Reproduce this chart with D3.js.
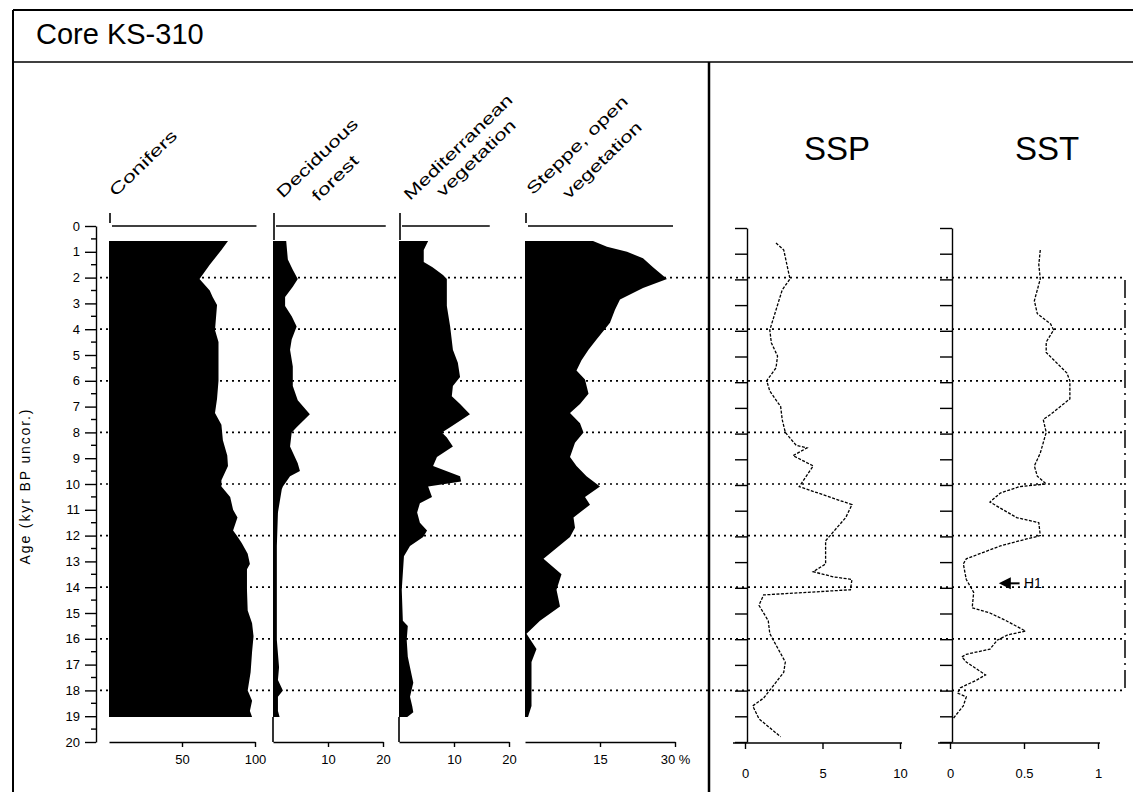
<!DOCTYPE html>
<html>
<head>
<meta charset="utf-8">
<script src="https://cdn.jsdelivr.net/npm/d3@7"></script>
<style>
  body { margin: 0; background: #fff; }
  svg { display: block; font-family: "Liberation Sans", Arial, sans-serif; }
  .axis path, .axis line { stroke: #000; stroke-width: 1.4; }
  .axis text { font-size: 13px; fill: #000; }
</style>
</head>
<body>
<svg id="chart" width="1133" height="792"></svg>
<script>
// pollen percentages, [age kyr BP, %]
var conifers = [[0.58,81.5],[0.93,77],[1.5,69],[2.05,62],[2.5,69],[2.75,71],[3.06,74],[4.03,72.6],[4.5,75],[6.0,75],[6.7,74],[7.25,72.6],[7.7,77],[8.3,78],[8.9,81],[9.3,81.5],[9.85,77],[10.1,77],[10.5,83],[11.0,85],[11.3,88],[11.8,85],[12.0,87.5],[12.3,91],[12.7,95],[13.1,96.5],[13.3,94.5],[14.1,94.5],[14.9,95],[15.4,98],[15.9,99],[16.5,98],[17.3,97],[18.0,95],[18.4,98],[18.8,96.5],[19.03,98]];
var deciduous = [[0.58,2.4],[1.3,2.7],[1.7,3.6],[2.05,4.5],[2.35,3.6],[2.75,2.2],[3.1,2.2],[3.5,3.4],[3.9,4.3],[4.4,3.4],[4.8,3.1],[5.45,3.6],[6.2,3.6],[6.75,4.5],[7.3,6.7],[7.8,4.3],[8.0,3.4],[8.55,3.1],[9.2,4.5],[9.5,4.9],[9.7,3.1],[10.1,1.8],[10.2,1.6],[11.1,0.9],[12.4,0.7],[15.0,0.7],[16.05,0.7],[17.1,1.1],[17.6,0.9],[18.0,1.8],[18.25,0.9],[18.8,0.9],[19.03,1.2]];
var mediterranean = [[0.58,5.3],[0.93,4.5],[1.4,4.5],[1.6,6.1],[1.9,8.0],[2.05,8.7],[3.1,8.7],[3.9,9.3],[4.8,9.8],[5.3,10.7],[5.85,11.1],[6.2,9.8],[6.6,9.6],[6.9,11.1],[7.3,12.9],[7.8,9.3],[8.0,7.8],[8.2,8.7],[8.55,9.8],[8.95,6.9],[9.3,6.2],[9.7,11.1],[9.9,11.3],[10.1,5.3],[10.5,6.0],[10.75,3.8],[11.1,3.3],[11.5,3.8],[11.8,5.1],[12.05,4.4],[12.4,2.0],[12.8,0.9],[14.1,0.5],[15.3,0.7],[15.5,1.6],[16.05,1.4],[16.7,1.6],[17.1,2.0],[17.7,2.6],[18.25,2.0],[18.6,2.4],[18.85,2.6],[19.03,1.5]];
var steppe = [[0.58,13.6],[0.8,16.4],[1.0,20.4],[1.25,23.6],[1.6,25.6],[2.05,28.4],[2.4,23.6],[2.85,19],[3.25,18],[3.75,17],[4.4,14.3],[4.8,12.7],[5.2,11.3],[5.6,10.3],[5.95,12],[6.5,12.7],[6.9,11],[7.25,9],[7.65,11],[8.0,11.7],[8.4,10],[8.95,9],[9.3,10.3],[9.7,12.3],[10.1,15],[10.5,12],[10.8,13],[11.3,9.7],[11.7,10],[12.05,9],[12.9,3.7],[13.5,7.3],[14.1,6.3],[14.75,7],[15.3,3],[15.8,0.3],[16.4,2.3],[16.9,1.3],[17.9,1.3],[18.6,1.3],[19.03,0.6]];

// sea surface proxies, [age kyr BP, value]
var ssp = [[0.66,2.0],[0.93,2.5],[2.05,2.9],[2.48,2.4],[3.06,2.1],[4.03,1.6],[4.53,1.7],[5.04,2.1],[5.5,2.0],[6.0,1.4],[6.4,1.6],[7.0,2.3],[7.5,2.4],[8.0,2.6],[8.5,3.3],[8.6,4.0],[8.9,3.1],[9.3,4.4],[10.1,3.5],[10.8,6.9],[11.3,6.5],[12.2,5.2],[13.1,5.2],[13.4,4.4],[13.6,5.7],[13.7,6.9],[14.1,6.8],[14.3,1.2],[14.7,0.9],[15.3,1.5],[15.8,1.6],[16.9,2.6],[17.3,2.5],[18.3,1.2],[18.6,0.5],[19.1,0.9],[19.8,2.3]];
var sst = [[0.93,0.61],[1.5,0.6],[2.05,0.61],[2.9,0.57],[3.4,0.59],[3.8,0.68],[4.03,0.7],[4.5,0.65],[4.9,0.65],[5.7,0.79],[6.0,0.81],[6.7,0.81],[7.3,0.68],[7.5,0.63],[8.0,0.65],[8.8,0.61],[9.3,0.57],[9.7,0.59],[10.0,0.65],[10.1,0.47],[10.35,0.34],[10.7,0.27],[11.3,0.45],[11.5,0.6],[12.0,0.61],[12.2,0.47],[12.4,0.34],[12.9,0.11],[13.1,0.09],[13.7,0.11],[14.2,0.16],[14.8,0.15],[15.0,0.27],[15.3,0.38],[15.7,0.51],[15.85,0.39],[16.05,0.32],[16.4,0.27],[16.6,0.11],[16.7,0.08],[16.9,0.11],[17.4,0.24],[17.6,0.18],[17.9,0.07],[18.1,0.05],[18.25,0.11],[18.6,0.09],[19.1,0.02]];

var ageTicks = d3.range(0, 21);
var guideAges = [2, 4, 6, 8, 10, 12, 14, 16, 18];
var sspTicks = [0, 5, 10];
var sstTicks = [0, 0.5, 1];

var svg = d3.select("#chart");
var y = d3.scaleLinear().domain([0, 20]).range([226, 742]);

// frame
svg.append("line").attr("x1", 13).attr("x2", 1133).attr("y1", 10).attr("y2", 10).attr("stroke", "#000").attr("stroke-width", 2);
svg.append("line").attr("x1", 13).attr("x2", 1133).attr("y1", 62).attr("y2", 62).attr("stroke", "#000").attr("stroke-width", 1.6);
svg.append("line").attr("x1", 13).attr("x2", 13).attr("y1", 10).attr("y2", 792).attr("stroke", "#000").attr("stroke-width", 2);
svg.append("line").attr("x1", 709).attr("x2", 709).attr("y1", 62).attr("y2", 792).attr("stroke", "#000").attr("stroke-width", 2.5);
svg.append("line").attr("x1", 1125).attr("x2", 1125).attr("y1", 280).attr("y2", 690)
  .attr("stroke", "#000").attr("stroke-width", 1.5).attr("stroke-dasharray", "18,5,2,5");

svg.append("text").attr("x", 36).attr("y", 44).style("font-size", "29px").text("Core KS-310");

// dotted guide lines
svg.append("g").selectAll("line").data(guideAges).join("line")
  .attr("x1", 100).attr("x2", 1125)
  .attr("y1", d => y(d)).attr("y2", d => y(d))
  .attr("stroke", "#000").attr("stroke-width", 1.7).attr("stroke-dasharray", "2,4");

// age axis
var ageAxis = svg.append("g").attr("class", "axis").attr("transform", "translate(96,0)")
  .call(d3.axisLeft(y).tickValues(ageTicks).tickSize(11).tickPadding(5).tickSizeOuter(0));
ageAxis.selectAll(".minor").data(d3.range(0.5, 20, 1)).join("line").attr("class", "minor")
  .attr("x1", 0).attr("x2", -5).attr("y1", d => y(d)).attr("y2", d => y(d));

svg.append("text")
  .attr("transform", "translate(30,487) rotate(-90)")
  .attr("text-anchor", "middle").style("font-size", "14px")
  .attr("textLength", 155).text("Age (kyr BP uncor.)");

// pollen panels
var panels = [
  { lines: ["Conifers"], data: conifers, domain: [0, 100], range: [109, 255], ticks: [50, 100], top: 101,
    head: [[143, 163, 87]], edge: false },
  { lines: ["Deciduous", "forest"], data: deciduous, domain: [0, 20], range: [273, 383], ticks: [10, 20], top: 20.5,
    head: [[317, 158, 106], [335, 178, 58]], edge: true },
  { lines: ["Mediterranean", "vegetation"], data: mediterranean, domain: [0, 20], range: [399, 509], ticks: [10, 20], top: 16.5,
    head: [[458, 147, 144], [476, 158, 103]], edge: true },
  { lines: ["Steppe, open", "vegetation"], data: steppe, domain: [0, 30], range: [525, 675], ticks: [15, 30], top: 29.6,
    head: [[577, 145, 134], [602, 160, 103]], edge: false }
];

panels.forEach(function (p) {
  var x = d3.scaleLinear().domain(p.domain).range(p.range);
  var g = svg.append("g");

  var area = d3.area()
    .y(d => y(d[0]))
    .x0(x(0))
    .x1(d => x(d[1]));
  g.append("path").datum(p.data).attr("d", area).attr("fill", "#000");

  // age 0 line on top
  g.append("line").attr("x1", x(0) + 3).attr("x2", x(p.top)).attr("y1", y(0)).attr("y2", y(0))
    .attr("stroke", "#000").attr("stroke-width", 1.6);
  g.append("line").attr("x1", x(0) + 1).attr("x2", x(0) + 1).attr("y1", y(0) - 13).attr("y2", y(0) + (p.edge ? 14 : -3))
    .attr("stroke", "#000").attr("stroke-width", 1.6);
  if (p.edge) {
    g.append("line").attr("x1", x(0)).attr("x2", x(0)).attr("y1", y(19.03)).attr("y2", y(20))
      .attr("stroke", "#000").attr("stroke-width", 1.6);
  }

  g.append("g").attr("class", "axis").attr("transform", "translate(0," + y(20) + ")")
    .call(d3.axisBottom(x).tickValues(p.ticks).tickSize(5).tickPadding(8).tickSizeOuter(0)
      .tickFormat(d => d == 30 ? "30 %" : d));

  p.head.forEach(function (h, i) {
    g.append("text")
      .attr("transform", "translate(" + h[0] + "," + h[1] + ") rotate(-44)")
      .attr("text-anchor", "middle").attr("dy", "0.35em")
      .style("font-size", "16px").attr("textLength", h[2]).attr("lengthAdjust", "spacingAndGlyphs")
      .text(p.lines[i]);
  });
});

// SSP and SST
var sspX = d3.scaleLinear().domain([0, 10]).range([745, 900]);
var sstX = d3.scaleLinear().domain([0, 1]).range([950, 1098]);

[[sspX, ssp, sspTicks, "SSP", 837], [sstX, sst, sstTicks, "SST", 1047]].forEach(function (s) {
  var x = s[0];
  var g = svg.append("g");
  var x0 = x(0) + 2;

  var vy = d3.scaleLinear().domain([0, 20]).range([y(0) + 2, y(20)]);
  g.append("g").attr("class", "axis").attr("transform", "translate(" + x0 + ",0)")
    .call(d3.axisLeft(vy).tickValues(ageTicks).tickSize(12).tickFormat("").tickSizeOuter(0));

  var bx = g.append("g").attr("class", "axis").attr("transform", "translate(0," + (y(20) + 1) + ")")
    .call(d3.axisBottom(x).tickValues(s[2]).tickSize(6).tickPadding(20).tickSizeOuter(0).tickFormat(d => d));
  bx.select("path").attr("d", "M" + (x0 - 14) + ",0H" + (x.range()[1] + 2));

  g.append("path").datum(s[1])
    .attr("d", d3.line().x(d => x(d[1])).y(d => y(d[0])))
    .attr("fill", "none").attr("stroke", "#000").attr("stroke-width", 1.3).attr("stroke-dasharray", "3,1.5");

  svg.append("text").attr("x", s[4]).attr("y", 160).attr("text-anchor", "middle")
    .style("font-size", "33px").text(s[3]);
});

// H1 marker
var hy = y(13.85);
svg.append("line").attr("x1", sstX(0.47)).attr("x2", sstX(0.36)).attr("y1", hy).attr("y2", hy)
  .attr("stroke", "#000").attr("stroke-width", 2);
svg.append("path").attr("d", "M" + sstX(0.33) + "," + hy + "l12,-6v12z").attr("fill", "#000");
svg.append("text").attr("x", sstX(0.56)).attr("y", hy + 5).attr("text-anchor", "middle")
  .style("font-size", "14px").text("H1");
</script>
</body>
</html>
